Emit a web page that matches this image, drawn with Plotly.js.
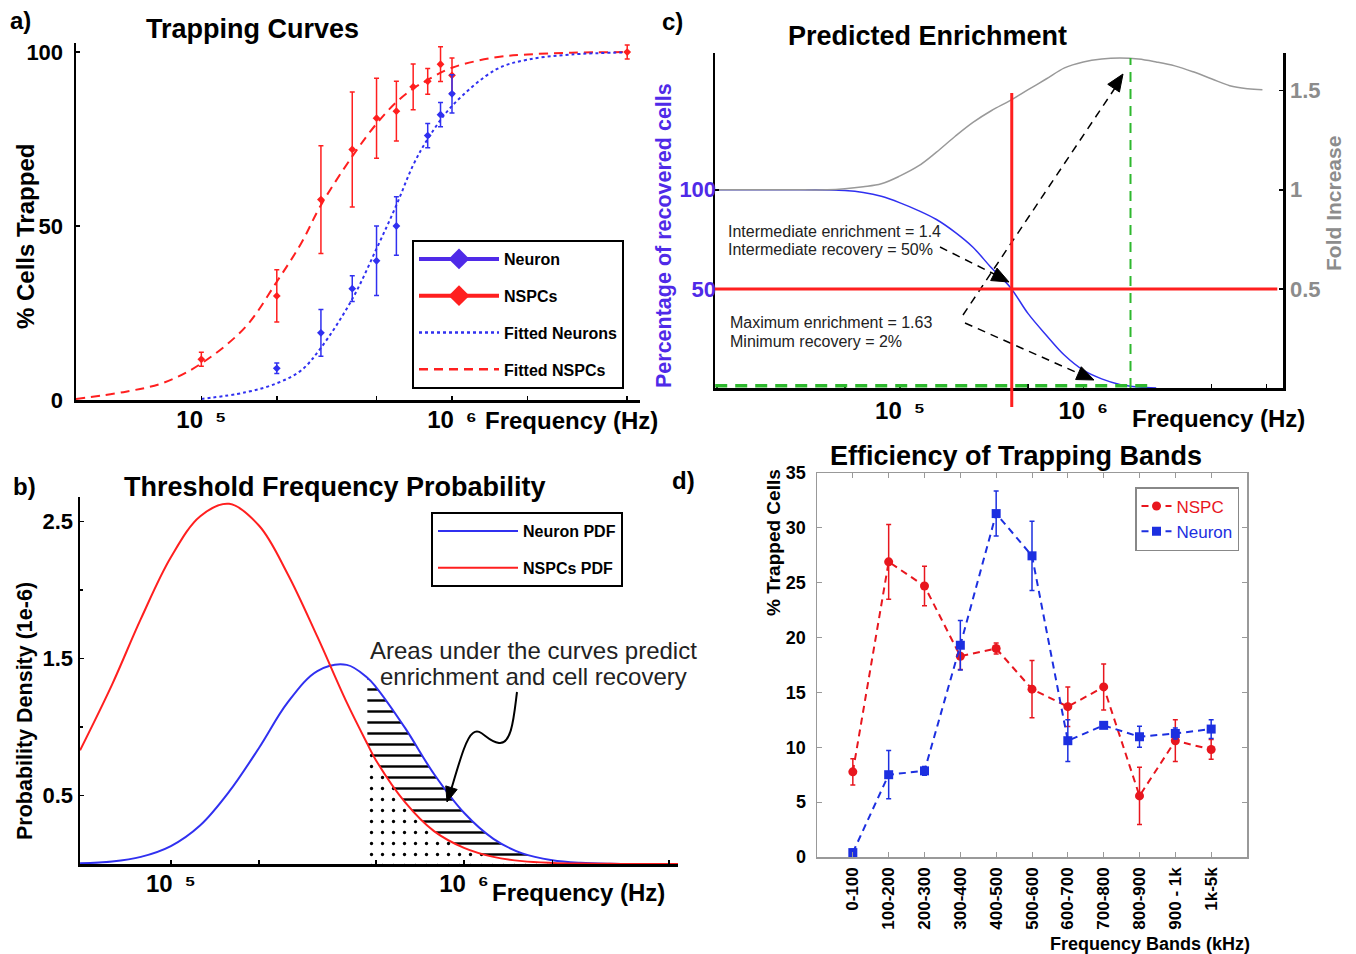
<!DOCTYPE html>
<html><head><meta charset="utf-8">
<script src="https://cdn.plot.ly/plotly-3.0.1.min.js"></script>
<style>html,body{margin:0;padding:0;background:#fff}#chart{width:1356px;height:954px}</style>
</head><body><div id="chart"></div>
<script>
// ---------- Panel a: Trapping curves ----------
const nspcFreq = [1e5, 2e5, 3e5, 4e5, 5e5, 6e5, 7e5, 8e5, 9e5, 1e6, 5e6];
const nspcTrapped = [11.7, 29.9, 57.6, 72, 81, 83, 90, 91.6, 96.5, 93.3, 100];
const nspcTrappedErr = [2, 7.5, 15.5, 16.5, 11.5, 8.6, 6.6, 3.7, 5, 5, 2];
const neuronFreq = [2e5, 3e5, 4e5, 5e5, 6e5, 8e5, 9e5, 1e6];
const neuronTrapped = [9.1, 19.3, 32, 40, 50, 76, 82, 88];
const neuronTrappedErr = [1.5, 6.7, 3.7, 10, 8.4, 3.5, 3.5, 5.5];
const fitFreq = [3.16e4, 5e4, 7.1e4, 1e5, 1.5e5, 2e5, 2.5e5, 3e5, 4e5, 5e5, 6e5, 7e5, 8e5, 1e6, 1.5e6, 2e6, 3e6, 5e6];
const fitNspc = [0.3, 2.4, 5, 10.5, 21, 34, 45, 56, 70, 79.4, 85.6, 89.5, 92, 95.5, 98.5, 99.3, 99.8, 100];
const fitNeuron = [null, null, null, 0.3, 2.2, 4.8, 8.5, 15, 29, 43.5, 56, 67.5, 75, 84.5, 95, 97.8, 99.3, 99.9];

// ---------- Panel b: Threshold frequency probability ----------
const pdfFreq = [4.9e4, 6.3e4, 7.9e4, 1.0e5, 1.26e5, 1.58e5, 2.0e5, 2.5e5, 3.16e5, 3.98e5, 4.68e5, 5.0e5, 6.3e5, 7.9e5, 1.0e6, 1.26e6, 1.58e6, 2.0e6, 2.5e6, 3.16e6, 3.98e6, 5.4e6];
const neuronPdf = [0.005, 0.018, 0.052, 0.131, 0.283, 0.528, 0.849, 1.178, 1.409, 1.454, 1.36, 1.294, 0.992, 0.657, 0.374, 0.184, 0.078, 0.028, 0.009, 0.002, 0, 0];
const nspcPdf = [0.83, 1.31, 1.79, 2.24, 2.54, 2.63, 2.47, 2.12, 1.66, 1.18, 0.877, 0.76, 0.45, 0.24, 0.118, 0.052, 0.021, 0.008, 0.003, 0.001, 0, 0];
const pdfCutFreq = 4.68e5;

// ---------- Panel c: Predicted enrichment ----------
const enrFreq = [1e4, 2.5e4, 4e4, 5e4, 6.3e4, 7.9e4, 1e5, 1.26e5, 1.58e5, 2e5, 2.5e5, 3.16e5, 3.98e5, 5e5, 6.3e5, 7.9e5, 1e6, 1.26e6, 1.58e6, 2e6, 2.5e6, 3.16e6, 3.98e6, 5e6, 6.3e6, 7.9e6, 9.5e6];
const recoveryPct = [100, 100, 99.9, 99.6, 98.6, 96.7, 93.4, 89.5, 85, 78.5, 71, 60.5, 51, 37.5, 26.5, 16.5, 9, 4.6, 1.8, 0.5, 0, null, null, null, null, null, null];
const foldIncrease = [1.0, 1.0, 1.0, 1.005, 1.015, 1.03, 1.07, 1.12, 1.19, 1.27, 1.34, 1.40, 1.45, 1.505, 1.56, 1.615, 1.645, 1.66, 1.665, 1.66, 1.645, 1.625, 1.595, 1.56, 1.525, 1.51, 1.505];
const intermediateFreq = 4.07e5, intermediateRecovery = 50;
const maxEnrichFreq = 1.81e6, maxEnrichment = 1.665, minRecovery = 1.1;

// ---------- Panel d: Efficiency of trapping bands ----------
const bands = ['0-100', '100-200', '200-300', '300-400', '400-500', '500-600', '600-700', '700-800', '800-900', '900 - 1k', '1k-5k'];
const nspcBand = [7.76, 26.9, 24.7, 18.3, 19.0, 15.3, 13.7, 15.5, 5.57, 10.6, 9.8];
const nspcBandErr = [1.2, 3.4, 1.8, 1.2, 0.5, 2.6, 1.8, 2.1, 2.6, 1.9, 0.9];
const neuronBand = [0.4, 7.5, 7.85, 19.3, 31.3, 27.45, 10.6, 12.0, 10.96, 11.26, 11.66];
const neuronBandErr = [0.3, 2.2, 0.4, 2.25, 2.05, 3.15, 1.9, 0.2, 0.95, 0.5, 0.85];

// ---------- helpers ----------
const W = 1356, H = 954;
const PX = x => x / W, PY = y => 1 - y / H;
const FONT = 'Liberation Sans, Arial, Helvetica, sans-serif';
const RED = '#ff1f1f', BLUE = '#3030f0', VIOLET = '#4f2ae8', GRAY = '#8c8c8c', GREEN = '#2eb82e';
const decadeTicks = ['10\u2002\u2075', '10\u2002\u2076'];
const expFont = {family: FONT, size: 24, color: '#000', weight: 'bold'};

const traces = [];
// Panel a
traces.push({x: fitFreq, y: fitNspc, mode: 'lines', line: {color: RED, width: 2, dash: '9px,6px', shape: 'spline'}, name: 'Fitted NSPCs', xaxis: 'x', yaxis: 'y', showlegend: false});
traces.push({x: fitFreq, y: fitNeuron, mode: 'lines', line: {color: BLUE, width: 2, dash: 'dot', shape: 'spline'}, name: 'Fitted Neurons', xaxis: 'x', yaxis: 'y', showlegend: false, connectgaps: false});
traces.push({x: nspcFreq, y: nspcTrapped, mode: 'markers', marker: {symbol: 'diamond', size: 6, color: RED}, error_y: {type: 'data', array: nspcTrappedErr, color: RED, thickness: 1.5, width: 2.5}, xaxis: 'x', yaxis: 'y', showlegend: false, name: 'NSPCs'});
traces.push({x: neuronFreq, y: neuronTrapped, mode: 'markers', marker: {symbol: 'diamond', size: 6, color: BLUE}, error_y: {type: 'data', array: neuronTrappedErr, color: BLUE, thickness: 1.5, width: 2.5}, xaxis: 'x', yaxis: 'y', showlegend: false, name: 'Neuron'});
// legend entries for panel a
traces.push({x: [null], y: [null], mode: 'lines+markers', name: 'Neuron', legend: 'legend', legendgroup: 'a1', line: {color: VIOLET, width: 4}, marker: {symbol: 'diamond', size: 16, color: VIOLET}, xaxis: 'x', yaxis: 'y'});
traces.push({x: [null], y: [null], mode: 'lines+markers', name: 'NSPCs', legend: 'legend', legendgroup: 'a2', line: {color: RED, width: 4}, marker: {symbol: 'diamond', size: 16, color: RED}, xaxis: 'x', yaxis: 'y'});
traces.push({x: [null], y: [null], mode: 'lines', name: 'Fitted Neurons', legend: 'legend', legendgroup: 'a3', line: {color: BLUE, width: 2.5, dash: 'dot'}, xaxis: 'x', yaxis: 'y'});
traces.push({x: [null], y: [null], mode: 'lines', name: 'Fitted NSPCs', legend: 'legend', legendgroup: 'a4', line: {color: RED, width: 2.5, dash: '9px,6px'}, xaxis: 'x', yaxis: 'y'});

// Panel b: hatched areas beyond the threshold
const cutIdx = pdfFreq.map((f, i) => f >= pdfCutFreq ? i : -1).filter(i => i >= 0);
traces.push({x: cutIdx.map(i => pdfFreq[i]), y: cutIdx.map(i => nspcPdf[i]), mode: 'lines', line: {width: 0, shape: 'spline'}, fill: 'tozeroy', fillcolor: 'rgba(0,0,0,0)', fillpattern: {shape: '.', fgcolor: '#000', bgcolor: '#fff', size: 11, solidity: 0.07}, xaxis: 'x2', yaxis: 'y2', showlegend: false, hoverinfo: 'skip'});
traces.push({x: cutIdx.map(i => pdfFreq[i]), y: cutIdx.map(i => neuronPdf[i]), mode: 'lines', line: {width: 0, shape: 'spline'}, fill: 'tonexty', fillcolor: 'rgba(0,0,0,0)', fillpattern: {shape: '-', fgcolor: '#000', bgcolor: '#fff', size: 11, solidity: 0.22}, xaxis: 'x2', yaxis: 'y2', showlegend: false, hoverinfo: 'skip'});
traces.push({x: pdfFreq, y: neuronPdf, mode: 'lines', name: 'Neuron PDF', legend: 'legend2', legendgroup: 'b1', line: {color: BLUE, width: 2, shape: 'spline'}, xaxis: 'x2', yaxis: 'y2'});
traces.push({x: pdfFreq, y: nspcPdf, mode: 'lines', name: 'NSPCs PDF', legend: 'legend2', legendgroup: 'b2', line: {color: RED, width: 2, shape: 'spline'}, xaxis: 'x2', yaxis: 'y2'});

// Panel c
traces.push({x: enrFreq, y: foldIncrease, mode: 'lines', line: {color: '#999', width: 1.5, shape: 'spline'}, xaxis: 'x3', yaxis: 'y4', showlegend: false, name: 'Fold Increase'});
traces.push({x: enrFreq, y: recoveryPct, mode: 'lines', line: {color: BLUE, width: 1.5, shape: 'spline'}, xaxis: 'x3', yaxis: 'y3', showlegend: false, name: 'Recovery'});

// Panel d
traces.push({x: bands, y: nspcBand, mode: 'lines+markers', name: '<span style="color:#e8161e">NSPC</span>', legend: 'legend3', line: {color: '#e8161e', width: 2, dash: '7px,5px'}, marker: {symbol: 'circle', size: 9, color: '#e8161e'}, error_y: {type: 'data', array: nspcBandErr, color: '#e8161e', thickness: 1.5, width: 2.5}, xaxis: 'x5', yaxis: 'y5'});
traces.push({x: bands, y: neuronBand, mode: 'lines+markers', name: '<span style="color:#1c2fe0">Neuron</span>', legend: 'legend3', line: {color: '#1c2fe0', width: 2, dash: '7px,5px'}, marker: {symbol: 'square', size: 9, color: '#1c2fe0'}, error_y: {type: 'data', array: neuronBandErr, color: '#1c2fe0', thickness: 1.5, width: 2.5}, xaxis: 'x5', yaxis: 'y5'});

const blackAxis = {showline: true, linecolor: '#000', linewidth: 2.5, showgrid: false, zeroline: false, ticks: 'inside', ticklen: 4, tickcolor: '#000', tickwidth: 1.5};
const boldTick = s => ({family: FONT, size: s, color: '#000', weight: 'bold'});

const ann = [];
const T = (text, x, y, size, opt) => ann.push(Object.assign({text, x: PX(x), y: PY(y), xref: 'paper', yref: 'paper', showarrow: false, font: {family: FONT, size, color: '#000', weight: 'bold'}, xanchor: 'center', yanchor: 'middle'}, opt || {}));
T('a)', 20, 20, 24); T('Trapping Curves', 252, 29, 27);
T('c)', 672, 22, 24); T('Predicted Enrichment', 927, 36, 27);
T('b)', 24, 487, 24); T('Threshold Frequency Probability', 335, 487, 27);
T('d)', 683, 480, 24); T('Efficiency of Trapping Bands', 1016, 456, 27);
T('Frequency (Hz)', 571, 420, 24); T('Frequency (Hz)', 578, 892, 24); T('Frequency (Hz)', 1218, 418, 24);
T('% Cells Trapped', 25, 237, 24, {textangle: -90});
T('Probability Density (1e-6)', 25, 711, 21.5, {textangle: -90});
T('Percentage of recovered cells', 664, 236, 21.5, {textangle: -90, font: {family: FONT, size: 21.5, color: VIOLET, weight: 'bold'}});
T('Fold Increase', 1334, 204, 21, {textangle: -90, font: {family: FONT, size: 21, color: GRAY, weight: 'bold'}});
T('% Trapped Cells', 773, 543, 19, {textangle: -90});
T('Frequency Bands (kHz)', 1150, 944, 18);
const plain = s => ({family: FONT, size: s, color: '#222'});
T('Intermediate enrichment = 1.4', 726, 231, 16, {xanchor: 'left', font: plain(16)});
T('Intermediate recovery = 50%', 726, 249, 16, {xanchor: 'left', font: plain(16)});
T('Maximum enrichment = 1.63', 728, 322, 16, {xanchor: 'left', font: plain(16)});
T('Minimum recovery = 2%', 728, 342, 16, {xanchor: 'left', font: plain(16)});
T('Areas under the curves predict', 533, 650, 24, {font: plain(24)});
T('enrichment and cell recovery', 533, 676, 24, {font: plain(24)});

const shapes = [];
// filled triangular arrow heads (tip, pointing away from the tail)
const head = (tipX, tipY, tailX, tailY, len, half) => {
  const dx = tailX - tipX, dy = tailY - tipY, L = Math.hypot(dx, dy);
  const ux = dx / L, uy = dy / L, nx = -uy, ny = ux;
  const bx = tipX + ux * len, by = tipY + uy * len;
  const p = [[tipX, tipY], [bx + nx * half, by + ny * half], [bx - nx * half, by - ny * half]];
  shapes.push({type: 'path', xref: 'paper', yref: 'paper', path: `M ${PX(p[0][0])} ${PY(p[0][1])} L ${PX(p[1][0])} ${PY(p[1][1])} L ${PX(p[2][0])} ${PY(p[2][1])} Z`, fillcolor: '#000', line: {color: '#000', width: 1}});
};
const dashed = (x0, y0, x1, y1) => shapes.push({type: 'line', xref: 'paper', yref: 'paper', x0: PX(x0), y0: PY(y0), x1: PX(x1), y1: PY(y1), line: {color: '#000', width: 1.5, dash: '8px,6px'}});
dashed(940, 247, 998, 276); head(1009, 282, 940, 247, 17, 7);
dashed(963, 315, 1115, 88); head(1123, 74, 963, 315, 17, 7);
dashed(965, 323, 1080, 374); head(1094, 380, 965, 323, 17, 7);

// panel c threshold lines
shapes.push({type: 'line', xref: 'x3 domain', yref: 'y3', x0: 0, x1: 0.99, y0: intermediateRecovery, y1: intermediateRecovery, line: {color: RED, width: 3}});
shapes.push({type: 'line', xref: 'x3', yref: 'paper', x0: intermediateFreq, x1: intermediateFreq, y0: PY(407), y1: PY(93), line: {color: RED, width: 3}});
shapes.push({type: 'line', xref: 'x3', yref: 'y4', x0: maxEnrichFreq, x1: maxEnrichFreq, y0: 0, y1: maxEnrichment, line: {color: GREEN, width: 2, dash: '10px,7px'}});
shapes.push({type: 'line', xref: 'x3', yref: 'y3', x0: 9.8e3, x1: 2.3e6, y0: minRecovery, y1: minRecovery, line: {color: GREEN, width: 3.5, dash: '12px,8px'}});

// wavy arrow panel b
const pts = [[517, 692], [514, 715], [512, 745], [499, 743], [486, 741], [481, 727], [473, 733], [466, 738], [460, 760], [451, 790]];
let path = `M ${PX(pts[0][0])} ${PY(pts[0][1])}`;
for (let i = 1; i < pts.length; i += 3) path += ` C ${PX(pts[i][0])} ${PY(pts[i][1])}, ${PX(pts[i+1][0])} ${PY(pts[i+1][1])}, ${PX(pts[i+2][0])} ${PY(pts[i+2][1])}`;
shapes.push({type: 'path', xref: 'paper', yref: 'paper', path, line: {color: '#000', width: 2}});
head(447, 802, 452, 786, 15, 6);

const legendBase = {xref: 'paper', yref: 'paper', xanchor: 'left', yanchor: 'top', bgcolor: '#fff', bordercolor: '#000', borderwidth: 2, font: {family: FONT, size: 16, color: '#000', weight: 'bold'}, itemwidth: 80, tracegroupgap: 13, traceorder: 'grouped'};

const layout = {
  width: W, height: H, margin: {l: 0, r: 0, t: 0, b: 0, autoexpand: false},
  paper_bgcolor: '#fff', plot_bgcolor: 'rgba(0,0,0,0)', showlegend: true,
  font: {family: FONT, color: '#000'},
  xaxis: Object.assign({}, blackAxis, {type: 'log', range: [4.5, 6.75], domain: [PX(76), PX(640)], anchor: 'y', tickvals: [1e5, 1e6], ticktext: decadeTicks, tickfont: expFont, ticklabelstandoff: -3, minor: {tickvals: [2e5, 5e5, 2e6, 5e6], ticks: 'inside', ticklen: 4, tickcolor: '#000'}}),
  yaxis: Object.assign({}, blackAxis, {range: [0, 102.6], domain: [PY(400), PY(43)], anchor: 'x', tickvals: [0, 50, 100], tickfont: boldTick(22), ticklabelstandoff: 6}),
  xaxis2: Object.assign({}, blackAxis, {type: 'log', range: [4.69, 6.73], domain: [PX(80), PX(678)], anchor: 'y2', tickvals: [1e5, 1e6], ticktext: decadeTicks, tickfont: expFont, ticklabelstandoff: -3, minor: {tickvals: [2e5, 5e5, 2e6, 5e6], ticks: 'inside', ticklen: 4, tickcolor: '#000'}}),
  yaxis2: Object.assign({}, blackAxis, {range: [0, 2.68], domain: [PY(864), PY(497)], anchor: 'x2', tickvals: [0.5, 1.5, 2.5], tickfont: boldTick(22), ticklabelstandoff: 0, minor: {tickvals: [1, 2], ticks: 'inside', ticklen: 3, tickcolor: '#000'}}),
  xaxis3: Object.assign({}, blackAxis, {type: 'log', range: [3.99, 7.09], domain: [PX(715), PX(1283)], anchor: 'y3', tickvals: [1e5, 1e6], ticktext: decadeTicks, tickfont: expFont, ticklabelstandoff: 0, minor: {tickvals: [1e4, 5e4, 5e5, 5e6, 1e7], ticks: 'inside', ticklen: 4, tickcolor: '#000'}}),
  yaxis3: Object.assign({}, blackAxis, {range: [0, 169], domain: [PY(388), PY(53)], anchor: 'x3', tickvals: [50, 100], tickfont: {family: FONT, size: 22, color: VIOLET, weight: 'bold'}, ticklabelstandoff: -8}),
  yaxis4: Object.assign({}, blackAxis, {range: [0, 1.69], overlaying: 'y3', side: 'right', anchor: 'x3', tickvals: [0.5, 1, 1.5], ticktext: ['0.5', '1', '1.5'], tickfont: {family: FONT, size: 22, color: GRAY, weight: 'bold'}, ticklabelstandoff: 0}),
  xaxis5: {type: 'category', range: [-1, 11], domain: [PX(817), PX(1247)], anchor: 'y5', showline: true, mirror: 'ticks', linecolor: '#999', linewidth: 1.5, ticks: 'inside', ticklen: 5, tickcolor: '#999', showgrid: false, zeroline: false, tickangle: -90, tickfont: boldTick(17), ticklabelstandoff: 2},
  yaxis5: {range: [0, 35], dtick: 5, domain: [PY(857), PY(473)], anchor: 'x5', showline: true, mirror: 'ticks', linecolor: '#999', linewidth: 1.5, ticks: 'inside', ticklen: 5, tickcolor: '#999', showgrid: false, zeroline: false, tickfont: boldTick(18), ticklabelstandoff: 6},
  legend: Object.assign({}, legendBase, {x: PX(412), y: PY(240)}),
  legend2: Object.assign({}, legendBase, {x: PX(431), y: PY(512)}),
  legend3: {x: PX(1135), y: PY(487), xref: 'paper', yref: 'paper', xanchor: 'left', yanchor: 'top', bgcolor: '#fff', bordercolor: '#888', borderwidth: 1.5, font: {family: FONT, size: 17}, itemwidth: 30, tracegroupgap: 0},
  annotations: ann, shapes
};
Plotly.newPlot('chart', traces, layout, {displayModeBar: false, staticPlot: true});
</script></body></html>
